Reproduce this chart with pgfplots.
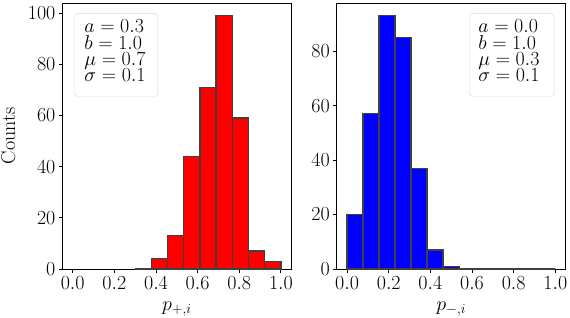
\documentclass[border=0pt]{standalone}
\usepackage{fix-cm}
\usepackage{pgfplots}
\pgfplotsset{compat=1.18}
\newcommand{\bigf}{\fontsize{20}{24}\selectfont}
\pgfplotsset{
  myax/.style={
    scale only axis, anchor=south west,
    width=229pt, height=266pt,
    xmin=-0.05, xmax=1.05, ymin=0,
    xtick={0,0.2,0.4,0.6,0.8,1.0},
    xticklabel style={/pgf/number format/fixed, /pgf/number format/fixed zerofill, /pgf/number format/precision=1},
    tick align=outside, xtick pos=bottom, ytick pos=left,
    major tick length=3.7pt,
    tick style={black, line width=0.8pt},
    axis line style={line width=0.8pt},
    tick label style={font=\bigf},
    xticklabel style={inner sep=1pt, yshift=-3pt},
    yticklabel style={inner sep=1pt, xshift=-2pt},
    label style={font=\bigf},
    xlabel style={at={(axis description cs:0.5,-0.155)}, anchor=base},
    clip=false,
  },
  myfill/.style={ybar interval, draw=none},
  myedge/.style={ybar interval, fill=none, draw=black!75, line width=1.4pt},
}
\pgfplotstableread{
x y
0.3 0
0.37778 4
0.45556 13
0.53333 44
0.61111 71
0.68889 99
0.76667 59
0.84444 7
0.92222 3
1.0 0
}\leftdata
\pgfplotstableread{
x y
0 20
0.07692 57
0.15385 93
0.23077 85
0.30769 37
0.38462 7
0.46154 1
0.53846 0
0.61538 0
0.69231 0
0.76923 0
0.84615 0
0.92308 0
1.0 0
}\rightdata
\begin{document}
\begin{tikzpicture}
\useasboundingbox (0,0) rectangle (570pt,318pt);
\begin{axis}[myax, at={(62.3pt,49pt)},
  ymax=103.95, ytick={0,20,40,60,80,100},
  xlabel={$p_{+,i}$}, ylabel={Counts},
  ylabel style={at={(axis description cs:-0.206,0.5)}, anchor=base}]
\addplot[myfill, fill=red] table[x=x,y=y] {\leftdata};
\addplot[myedge] table[x=x,y=y] {\leftdata};
\node[draw=black!15, fill=white, fill opacity=0.8, draw opacity=1, rounded corners=3pt, anchor=north west, inner sep=0pt, minimum width=83.4pt, minimum height=82.7pt] at (rel axis cs:0.0524,0.961) {};
\node[anchor=base west, inner sep=0pt, font=\bigf] at (rel axis cs:0.096,0.888) {$a=0.3$};
\node[anchor=base west, inner sep=0pt, font=\bigf] at (rel axis cs:0.096,0.826) {$b=1.0$};
\node[anchor=base west, inner sep=0pt, font=\bigf] at (rel axis cs:0.096,0.765) {$\mu=0.7$};
\node[anchor=base west, inner sep=0pt, font=\bigf] at (rel axis cs:0.096,0.703) {$\sigma=0.1$};
\end{axis}
\begin{axis}[myax, at={(336.7pt,49pt)},
  ymax=97.65, ytick={0,20,40,60,80},
  xlabel={$p_{-,i}$}]
\addplot[myfill, fill=blue] table[x=x,y=y] {\rightdata};
\addplot[myedge] table[x=x,y=y] {\rightdata};
\node[draw=black!15, fill=white, fill opacity=0.8, draw opacity=1, rounded corners=3pt, anchor=north west, inner sep=0pt, minimum width=84.7pt, minimum height=82.7pt] at (rel axis cs:0.579,0.961) {};
\node[anchor=base west, inner sep=0pt, font=\bigf] at (rel axis cs:0.618,0.888) {$a=0.0$};
\node[anchor=base west, inner sep=0pt, font=\bigf] at (rel axis cs:0.618,0.826) {$b=1.0$};
\node[anchor=base west, inner sep=0pt, font=\bigf] at (rel axis cs:0.618,0.765) {$\mu=0.3$};
\node[anchor=base west, inner sep=0pt, font=\bigf] at (rel axis cs:0.618,0.703) {$\sigma=0.1$};
\end{axis}
\end{tikzpicture}
\end{document}
